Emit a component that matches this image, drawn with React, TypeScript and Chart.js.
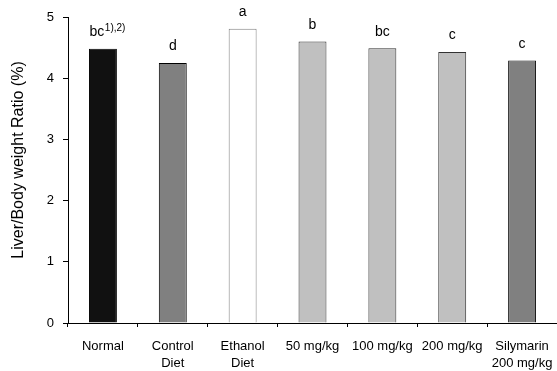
import React, { useEffect, useRef } from 'react';
import { Chart, registerables } from 'chart.js';

Chart.register(...registerables);

const categories: string[][] = [
  ['Normal'],
  ['Control', 'Diet'],
  ['Ethanol', 'Diet'],
  ['50 mg/kg'],
  ['100 mg/kg'],
  ['200 mg/kg'],
  ['Silymarin', '200 mg/kg'],
];
const ratios = [4.48, 4.25, 4.81, 4.6, 4.49, 4.43, 4.29];
const sigLetters = ['bc', 'd', 'a', 'b', 'bc', 'c', 'c'];
const footnoteMarks = ['1),2)', '', '', '', '', '', ''];
const barFills = ['#111111', '#808080', '#ffffff', '#c0c0c0', '#c0c0c0', '#c0c0c0', '#808080'];
const barBorders = ['#000000', '#000000', '#808080', '#333333', '#333333', '#333333', '#111111'];
const yTitle = 'Liver/Body weight Ratio (%)';
const yMin = 0;
const yMax = 5;
const yStep = 1;

const FONT = '"Liberation Sans", Arial, Helvetica, sans-serif';

const labelPlugin = {
  id: 'sigLabels',
  afterDatasetsDraw(chart: any) {
    const ctx = chart.ctx;
    const meta = chart.getDatasetMeta(0);
    ctx.save();
    ctx.fillStyle = '#000';
    ctx.textBaseline = 'alphabetic';
    meta.data.forEach((bar: any, i: number) => {
      const main = sigLetters[i];
      const sup = footnoteMarks[i];
      const baseY = bar.y - 12.5;
      ctx.font = `14px ${FONT}`;
      const w1 = ctx.measureText(main).width;
      if (sup) {
        const startX = bar.x - w1 / 2 - 6;
        ctx.textAlign = 'left';
        ctx.fillText(main, startX, baseY);
        ctx.font = `10px ${FONT}`;
        ctx.fillText(sup, startX + w1 + 0.5, baseY - 5);
      } else {
        ctx.textAlign = 'center';
        ctx.fillText(main, bar.x, baseY);
      }
    });
    ctx.restore();
  },
};

const yTitlePlugin = {
  id: 'yTitle',
  afterDraw(chart: any) {
    const ctx = chart.ctx;
    const area = chart.chartArea;
    ctx.save();
    ctx.translate(19, (area.top + area.bottom) / 2 - 10);
    ctx.rotate(-Math.PI / 2);
    ctx.font = `16px ${FONT}`;
    ctx.fillStyle = '#000';
    ctx.textAlign = 'center';
    ctx.textBaseline = 'middle';
    ctx.fillText(yTitle, 0, 0);
    ctx.restore();
  },
};

export default function App() {
  const canvasRef = useRef<HTMLCanvasElement | null>(null);

  useEffect(() => {
    if (!canvasRef.current) return;
    const chart = new Chart(canvasRef.current, {
      type: 'bar',
      data: {
        labels: categories,
        datasets: [
          {
            data: ratios,
            backgroundColor: barFills,
            borderColor: barBorders,
            borderWidth: 1,
            borderSkipped: 'bottom',
            barPercentage: 0.4,
            categoryPercentage: 1,
          },
        ],
      },
      options: {
        responsive: true,
        maintainAspectRatio: false,
        animation: false,
        layout: { padding: { top: 17, left: 0, right: 0, bottom: 0 } },
        plugins: {
          legend: { display: false },
          tooltip: { enabled: false },
          title: { display: false },
        },
        scales: {
          x: {
            offset: true,
            grid: {
              offset: true,
              drawOnChartArea: false,
              drawTicks: true,
              tickLength: 4,
              color: '#000',
            },
            border: { display: true, color: '#000', width: 1 },
            ticks: {
              color: '#000',
              font: { family: FONT, size: 13, lineHeight: 1.28 },
              padding: 11,
              maxRotation: 0,
              minRotation: 0,
              autoSkip: false,
            },
            afterFit(scale: any) {
              scale.height = 48;
              scale.paddingLeft = 0;
              scale.paddingRight = 0;
            },
          },
          y: {
            min: yMin,
            max: yMax,
            grid: {
              drawOnChartArea: false,
              drawTicks: true,
              tickLength: 5,
              color: '#000',
            },
            border: { display: true, color: '#000', width: 1 },
            ticks: {
              stepSize: yStep,
              color: '#000',
              font: { family: FONT, size: 13 },
              padding: 9,
            },
            afterFit(scale: any) {
              scale.width = 68;
            },
          },
        },
      },
      plugins: [labelPlugin, yTitlePlugin],
    });
    return () => chart.destroy();
  }, []);

  return (
    <div style={{ position: 'absolute', left: 0, top: 0, width: 557, height: 371, background: '#fff' }}>
      <canvas ref={canvasRef} />
    </div>
  );
}
